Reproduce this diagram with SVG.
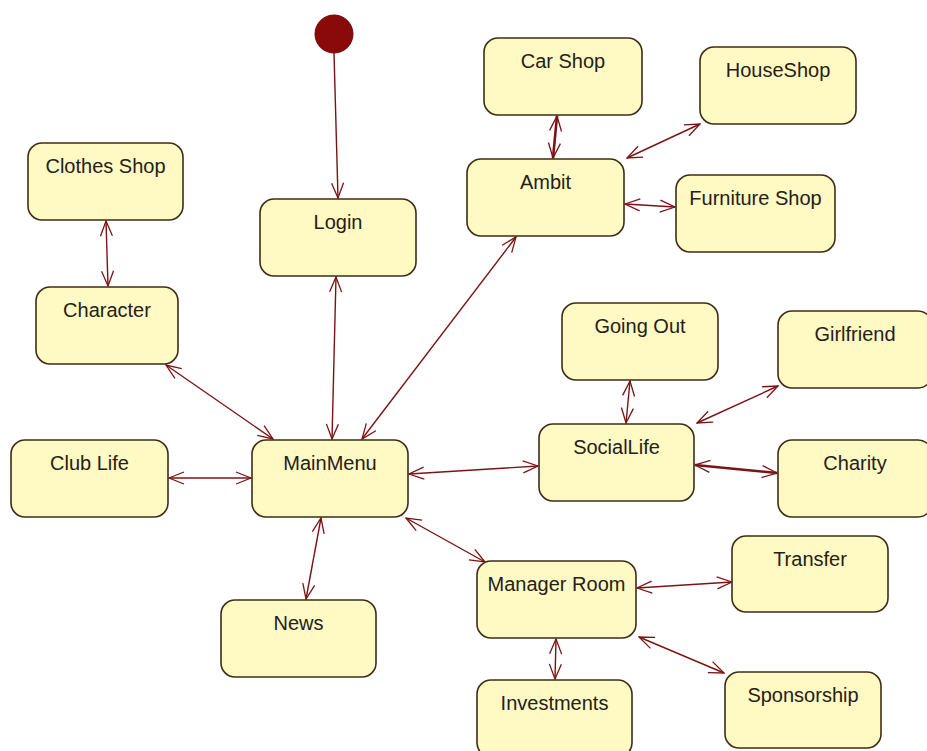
<svg xmlns="http://www.w3.org/2000/svg" width="927" height="751" viewBox="0 0 927 751">
<defs>
<style>
.node rect{fill:#fff9c4;stroke:#3f2c16;stroke-width:1.6}
.node text{font-family:"Liberation Sans",Arial,sans-serif;font-size:20px;fill:#262015;text-anchor:middle}
.conn line{stroke:#7a1414;stroke-width:1.4;fill:none}
.conn line.bold{stroke-width:2.6}
</style>
<marker id="ah" viewBox="0 0 17 14" refX="16" refY="7" markerWidth="17" markerHeight="14" markerUnits="userSpaceOnUse" orient="auto-start-reverse">
<path d="M1,1 L16,7 L1,13" fill="none" stroke="#7a1414" stroke-width="1.3"/>
</marker>
</defs>
<rect width="927" height="751" fill="#ffffff"/>
<g id="connectors" class="conn">
<line x1="334" y1="53" x2="338" y2="198" marker-end="url(#ah)"/>
<line x1="336" y1="277" x2="332" y2="439" marker-start="url(#ah)" marker-end="url(#ah)"/>
<line x1="516" y1="237" x2="362" y2="439" marker-start="url(#ah)" marker-end="url(#ah)"/>
<line x1="166" y1="365" x2="273" y2="439" marker-start="url(#ah)" marker-end="url(#ah)"/>
<line x1="106" y1="221" x2="108" y2="286" marker-start="url(#ah)" marker-end="url(#ah)"/>
<line x1="169" y1="478" x2="251" y2="478" marker-start="url(#ah)" marker-end="url(#ah)"/>
<line x1="409" y1="474" x2="538" y2="466" marker-start="url(#ah)" marker-end="url(#ah)"/>
<line x1="321" y1="518" x2="306" y2="599" marker-start="url(#ah)" marker-end="url(#ah)"/>
<line x1="406" y1="518" x2="485" y2="562" marker-start="url(#ah)" marker-end="url(#ah)"/>
<line class="bold" x1="557" y1="116" x2="553" y2="158" marker-start="url(#ah)" marker-end="url(#ah)"/>
<line x1="627" y1="158" x2="700" y2="124" marker-start="url(#ah)" marker-end="url(#ah)"/>
<line x1="625" y1="204" x2="675" y2="207" marker-start="url(#ah)" marker-end="url(#ah)"/>
<line x1="630" y1="381" x2="626" y2="423" marker-start="url(#ah)" marker-end="url(#ah)"/>
<line x1="697" y1="423" x2="778" y2="386" marker-start="url(#ah)" marker-end="url(#ah)"/>
<line class="bold" x1="695" y1="465" x2="777" y2="473" marker-start="url(#ah)" marker-end="url(#ah)"/>
<line x1="637" y1="588" x2="732" y2="582" marker-start="url(#ah)" marker-end="url(#ah)"/>
<line x1="639" y1="637" x2="724" y2="673" marker-start="url(#ah)" marker-end="url(#ah)"/>
<line x1="556" y1="639" x2="555" y2="679" marker-start="url(#ah)" marker-end="url(#ah)"/>
</g>
<g id="initial"><circle cx="334" cy="34" r="19" fill="#8a0a0a" stroke="#6a0505" stroke-width="1"/></g>
<g id="login" class="node"><rect x="260" y="199" width="156" height="77" rx="14"/><text x="338" y="229">Login</text></g>
<g id="clothes-shop" class="node"><rect x="28" y="143" width="155" height="77" rx="14"/><text x="105.5" y="173">Clothes Shop</text></g>
<g id="character" class="node"><rect x="36" y="287" width="142" height="77" rx="14"/><text x="107" y="317">Character</text></g>
<g id="club-life" class="node"><rect x="11" y="440" width="157" height="77" rx="14"/><text x="89.5" y="470">Club Life</text></g>
<g id="mainmenu" class="node"><rect x="252" y="440" width="156" height="77" rx="14"/><text x="330" y="470">MainMenu</text></g>
<g id="news" class="node"><rect x="221" y="600" width="155" height="77" rx="14"/><text x="298.5" y="630">News</text></g>
<g id="car-shop" class="node"><rect x="484" y="38" width="158" height="77" rx="14"/><text x="563" y="68">Car Shop</text></g>
<g id="houseshop" class="node"><rect x="700" y="47" width="156" height="77" rx="14"/><text x="778" y="77">HouseShop</text></g>
<g id="ambit" class="node"><rect x="467" y="159" width="157" height="77" rx="14"/><text x="545.5" y="189">Ambit</text></g>
<g id="furniture-shop" class="node"><rect x="676" y="175" width="159" height="77" rx="14"/><text x="755.5" y="205">Furniture Shop</text></g>
<g id="going-out" class="node"><rect x="562" y="303" width="156" height="77" rx="14"/><text x="640" y="333">Going Out</text></g>
<g id="girlfriend" class="node"><rect x="778" y="311" width="154" height="77" rx="14"/><text x="855" y="341">Girlfriend</text></g>
<g id="sociallife" class="node"><rect x="539" y="424" width="155" height="77" rx="14"/><text x="616.5" y="454">SocialLife</text></g>
<g id="charity" class="node"><rect x="778" y="440" width="154" height="77" rx="14"/><text x="855" y="470">Charity</text></g>
<g id="manager-room" class="node"><rect x="477" y="561" width="159" height="77" rx="14"/><text x="556.5" y="591">Manager Room</text></g>
<g id="transfer" class="node"><rect x="732" y="536" width="156" height="76" rx="14"/><text x="810" y="566">Transfer</text></g>
<g id="investments" class="node"><rect x="477" y="680" width="155" height="77" rx="14"/><text x="554.5" y="710">Investments</text></g>
<g id="sponsorship" class="node"><rect x="725" y="672" width="156" height="76" rx="14"/><text x="803" y="702">Sponsorship</text></g>
</svg>
